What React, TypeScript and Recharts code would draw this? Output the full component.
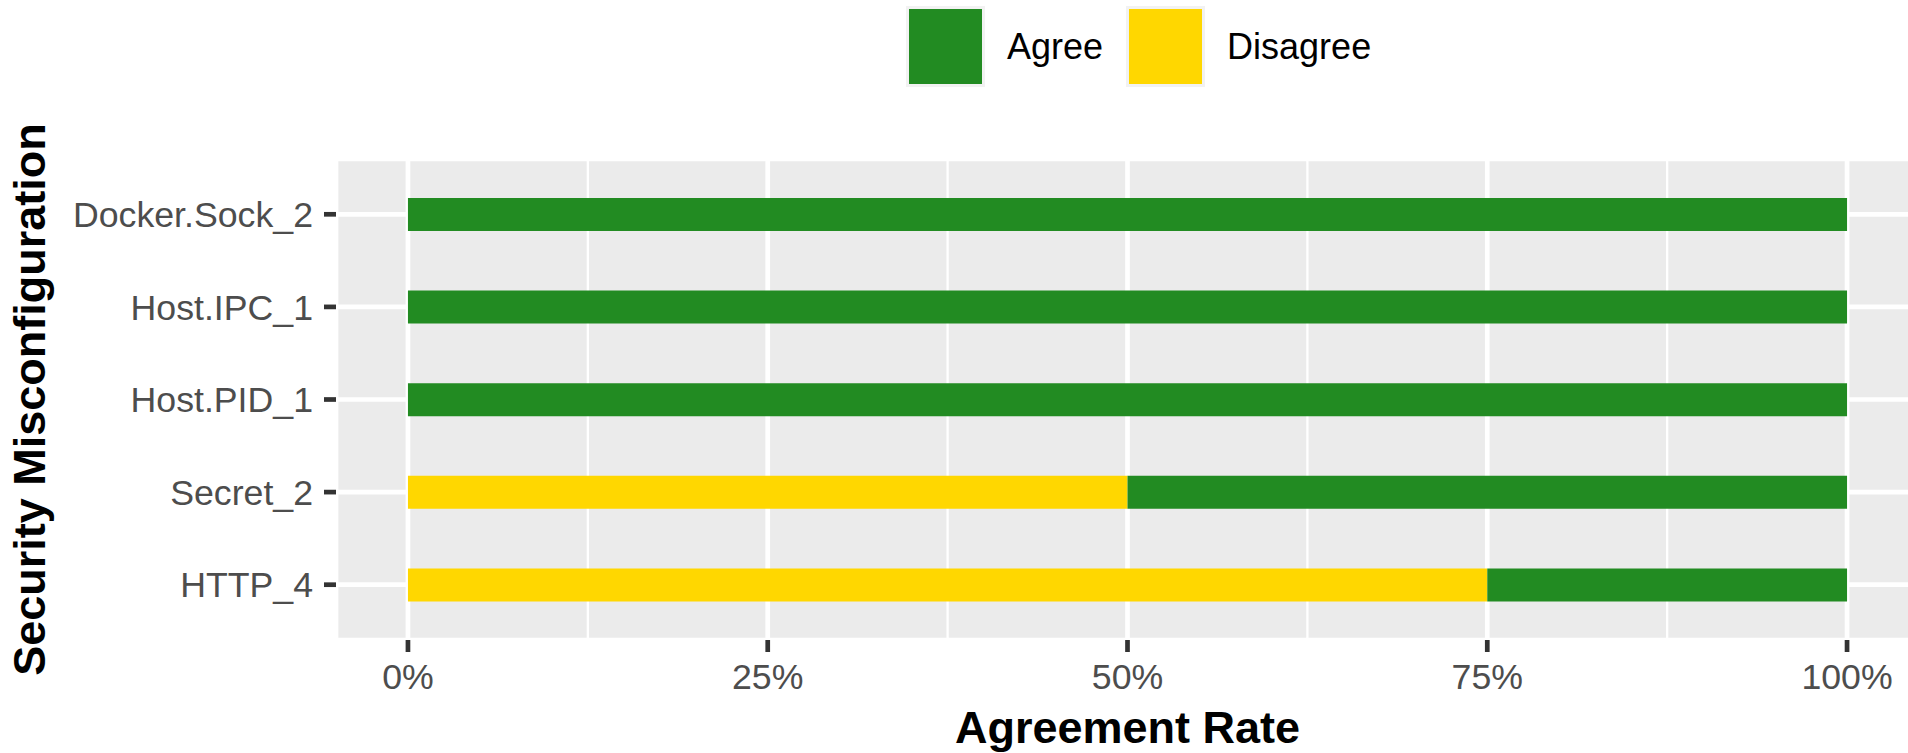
import React from "react";
import { BarChart, Bar, XAxis, YAxis, CartesianGrid, Legend } from "recharts";

const categories = ["Docker.Sock_2", "Host.IPC_1", "Host.PID_1", "Secret_2", "HTTP_4"];
const disagreeValues = [0, 0, 0, 50, 75];
const agreeValues = [100, 100, 100, 50, 25];
const xTicks = [0, 25, 50, 75, 100];
const xMinorTicks = [12.5, 37.5, 62.5, 87.5];
const legendItems = [
  { name: "Agree", color: "#228B22" },
  { name: "Disagree", color: "#FFD700" },
];

const data = categories.map((name, i) => ({
  name,
  Disagree: disagreeValues[i],
  Agree: agreeValues[i],
}));

const FONT = "'Liberation Sans', Arial, Helvetica, sans-serif";

const XTitle = (props: any) => {
  const vb = props.viewBox || {};
  return (
    <text
      x={vb.x + vb.width / 2}
      y={vb.y + 103}
      textAnchor="middle"
      fontFamily={FONT}
      fontWeight="bold"
      fontSize={45}
      fill="#000"
    >
      Agreement Rate
    </text>
  );
};

const YTitle = (props: any) => {
  const vb = props.viewBox || {};
  const cx = 45;
  const cy = vb.y + vb.height / 2;
  return (
    <text
      x={cx}
      y={cy}
      transform={`rotate(-90 ${cx} ${cy})`}
      textAnchor="middle"
      fontFamily={FONT}
      fontWeight="bold"
      fontSize={45}
      fill="#000"
    >
      Security Misconfiguration
    </text>
  );
};

const LegendContent = () => (
  <div style={{ display: "flex", alignItems: "center", fontFamily: FONT }}>
    {legendItems.map((it, i) => (
      <div key={it.name} style={{ display: "flex", alignItems: "center" }}>
        <div
          style={{
            width: 79,
            height: 81,
            boxSizing: "border-box",
            border: "3px solid #F2F2F2",
            background: it.color,
          }}
        />
        <span
          style={{
            marginLeft: 22,
            marginRight: i === 0 ? 23 : 0,
            fontSize: 36,
            lineHeight: "36px",
            color: "#000",
          }}
        >
          {it.name}
        </span>
      </div>
    ))}
  </div>
);

export default function App() {
  return (
    <div
      style={{
        position: "absolute",
        left: 0,
        top: 0,
        width: 1908,
        height: 753,
        overflow: "hidden",
        background: "#fff",
      }}
    >
      <BarChart
        width={1919}
        height={753}
        data={data}
        layout="vertical"
        margin={{ top: 159, right: 0, bottom: 0, left: 0 }}
        style={{ fontFamily: FONT }}
      >
        <CartesianGrid fill="#EBEBEB" stroke="#FFFFFF" strokeWidth={4.7} />
        <CartesianGrid
          horizontal={false}
          verticalValues={xMinorTicks}
          stroke="#FFFFFF"
          strokeWidth={2.3}
          fill="none"
        />
        <XAxis
          type="number"
          domain={[-5, 105]}
          ticks={xTicks}
          allowDataOverflow
          tickFormatter={(v: number) => `${v}%`}
          height={113}
          axisLine={false}
          tickLine={{ stroke: "#333333", strokeWidth: 4.7 }}
          tickSize={12}
          tickMargin={12}
          tick={{ fill: "#4D4D4D", fontSize: 35.7, fontFamily: FONT }}
          interval={0}
          label={<XTitle />}
        />
        <YAxis
          type="category"
          dataKey="name"
          width={336}
          padding={{ top: 9, bottom: 9 }}
          axisLine={false}
          tickLine={{ stroke: "#333333", strokeWidth: 4.7 }}
          tickSize={12}
          tickMargin={11}
          tick={{ fill: "#4D4D4D", fontSize: 35.7, fontFamily: FONT }}
          interval={0}
          label={<YTitle />}
        />
        <Legend
          layout="horizontal"
          verticalAlign="middle"
          align="center"
          wrapperStyle={{ top: 6, left: 906, width: "auto", height: "auto" }}
          content={<LegendContent />}
        />
        <Bar dataKey="Disagree" stackId="a" fill="#FFD700" barSize={33} isAnimationActive={false} />
        <Bar dataKey="Agree" stackId="a" fill="#228B22" barSize={33} isAnimationActive={false} />
      </BarChart>
    </div>
  );
}
